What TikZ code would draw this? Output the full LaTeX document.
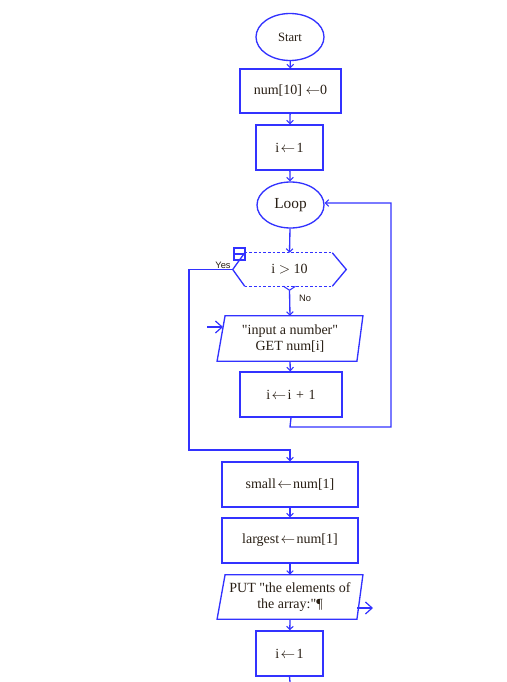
\documentclass[tikz,border=0pt]{standalone}
\usepackage{fontspec}
\setmainfont{Liberation Serif}
\newfontfamily\lblfont{Liberation Sans}
\usetikzlibrary{shapes.geometric,arrows.meta,calc}
\definecolor{fcblue}{RGB}{50,50,255}
\definecolor{fctext}{RGB}{40,30,20}
\newcommand{\qd}{\textquotedbl}
\newcommand{\la}{\kern1pt$\leftarrow$\kern1pt}
\tikzset{
  fcline/.style={draw=fcblue, line width=1pt},
  fcbox/.style={fcline, rectangle, inner sep=0pt, text=fctext, font=\fontsize{10.5}{12}\selectfont, align=center},
  fcoval/.style={fcline, ellipse, inner sep=0pt, text=fctext, align=center},
  fcplain/.style={draw=none, rectangle, inner sep=0pt, text=fctext, font=\fontsize{10.5}{12}\selectfont, align=center},
  fcarrow/.style={fcline, -{Straight Barb[length=2.5pt,width=5pt,line width=0.8pt]}},
  fcbigarrow/.style={fcline, -{Straight Barb[length=5pt,width=9pt,line width=0.9pt]}},
  fclbl/.style={text=fctext, font=\lblfont\fontsize{7}{8}\selectfont, inner sep=0pt},
}
\begin{document}
\begin{tikzpicture}[x=0.75pt,y=-0.75pt]
\useasboundingbox (0,0) rectangle (507,682);

% nodes
\node[fcoval, minimum width=51pt, minimum height=35.25pt, font=\fontsize{9.5}{11}\selectfont] (start) at (290,37) {Start};
\node[fcbox, minimum width=75.75pt, minimum height=33pt] (init) at (290.5,91) {num[10] $\leftarrow$0};
\node[fcbox, minimum width=50.25pt, minimum height=33.75pt] (ione) at (289.5,147.5) {i\la1};
\node[fcoval, minimum width=50.25pt, minimum height=34.5pt, font=\fontsize{11.5}{13}\selectfont] (loop) at (290.5,205) {Loop};
\node[fcplain, minimum width=84.75pt, minimum height=24.75pt] (dec) at (289.5,269.5) {i $>$ 10};
\node[fcplain, minimum width=109pt, minimum height=33.75pt] (inp) at (290,338.5) {\qd input a number\qd\\GET num[i]};
\node[fcbox, minimum width=76.5pt, minimum height=33.75pt] (inc) at (291,394.5) {i\la i\,\,+\,\,1};
\node[fcbox, minimum width=102pt, minimum height=33.75pt] (small) at (290,484.5) {small\la num[1]};
\node[fcbox, minimum width=102pt, minimum height=33.75pt] (largest) at (290,540.5) {largest\la num[1]};
\node[fcplain, minimum width=109pt, minimum height=33pt] (put) at (290,597) {PUT \qd the elements of\\the array:\qd¶};
\node[fcbox, minimum width=50.25pt, minimum height=33.75pt] (itwo) at (289.5,653.5) {i\la1};

% hexagon
\draw[fcline] ($(dec.north west)+(12,0)$) -- (dec.west) -- ($(dec.south west)+(12,0)$);
\draw[fcline] ($(dec.north east)+(-14,0)$) -- (dec.east) -- ($(dec.south east)+(-14,0)$);
\draw[fcline, line width=0.7pt, dash pattern=on 2pt off 1.5pt] ($(dec.north west)+(12,0)$) -- ($(dec.north east)+(-14,0)$);
\draw[fcline, line width=0.7pt, dash pattern=on 2pt off 1.5pt] ($(dec.south west)+(12,0)$) -- ($(dec.south east)+(-14,0)$);
\draw[fcline, line width=0.8pt] ($(dec.south)+(-6,0)$) -- ($(dec.south)+(0,4)$) -- ($(dec.south)+(6,0)$);
% small icon
\draw[fcline, line width=0.9pt] (234,248) rectangle (245,260);
\draw[fcline, line width=0.9pt] (234,254) -- (245,254);
\node[fclbl] (yes) at (223,265) {Yes};
\node[fclbl] (no) at (305,298) {No};

% parallelograms
\draw[fcline] ($(inp.north west)+(8,0)$) -- (inp.north east) -- ($(inp.south east)+(-6,0)$) -- (inp.south west) -- cycle;
\draw[fcline] ($(put.north west)+(8,0)$) -- (put.north east) -- ($(put.south east)+(-6,0)$) -- (put.south west) -- cycle;

% connectors
\draw[fcarrow] (start) -- (init);
\draw[fcarrow] (init) -- (ione);
\draw[fcarrow] (ione) -- (loop);
\draw[fcarrow] (loop) -- (dec.north);
\draw[fcarrow] ($(dec.south)+(0,4)$) -- (inp.north);
\draw[fcarrow] (inp.south) -- (inc);
\coordinate (lb1) at (290,427);
\coordinate (lb2) at (391,427);
\coordinate (lb3) at (391,203);
\draw[fcarrow] (inc.south) -- (lb1) -- (lb2) -- (lb3) -- (lb3 -| loop.east);
\coordinate (y1) at (189,269.5);
\coordinate (y2) at (189,450);
\coordinate (y3) at (290,450);
\draw[fcarrow] (dec.west) -- (y1) -- (y2) -- (y3) -- (small.north);
\draw[fcarrow] (small) -- (largest);
\draw[fcarrow] (largest) -- (put.north);
\draw[fcarrow] (put.south) -- (itwo);
\coordinate (bot) at (290,682);
\draw[fcline] (itwo.south) -- (bot);
\coordinate (inin) at (207,327);
\coordinate (inend) at (223,327);
\draw[fcbigarrow] (inin) -- (inend);
\coordinate (outs) at (357,608);
\coordinate (oute) at (373,608);
\draw[fcbigarrow] (outs) -- (oute);
\end{tikzpicture}
\end{document}
